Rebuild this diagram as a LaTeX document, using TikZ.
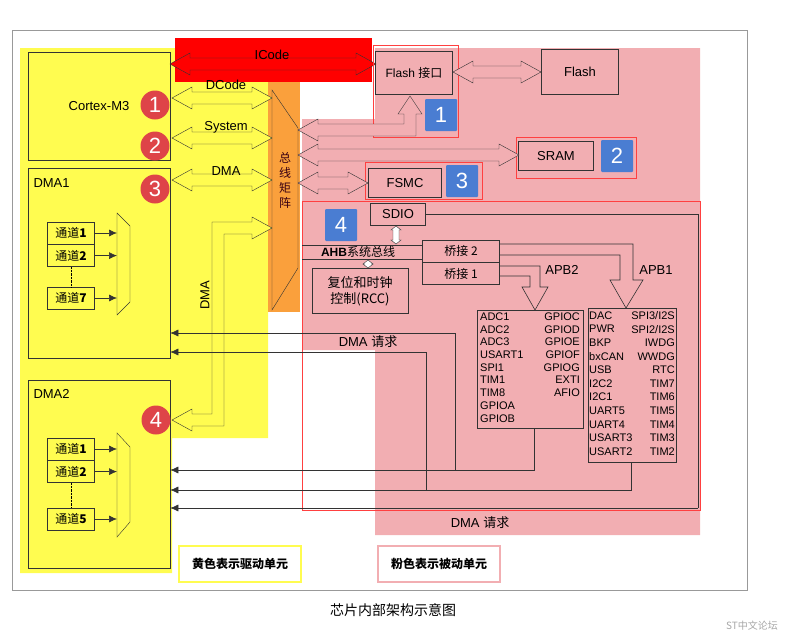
\documentclass[tikz,border=0pt]{standalone}
\usepackage{fontspec}
\setmainfont{Liberation Sans}
\newfontfamily\cjk{Noto Sans CJK SC}
\usetikzlibrary{arrows.meta, positioning}
\definecolor{drvyellow}{RGB}{255, 252, 80}
\definecolor{pasvpink}{RGB}{242, 174, 178}
\definecolor{busorange}{RGB}{250, 160, 60}
\definecolor{numred}{RGB}{222, 68, 72}
\definecolor{tagblue}{RGB}{74, 125, 210}
\tikzset{
  box/.style={draw=black!80, semithick, inner sep=1pt, font=\fontsize{13}{14}\selectfont},
  redbox/.style={draw=red!75, thick},
  num/.style={circle, fill=numred, text=white, minimum size=29pt, inner sep=0pt, font=\fontsize{22}{22}\selectfont},
  tag/.style={fill=tagblue, text=white, minimum size=32pt, inner sep=0pt, rounded corners=1pt, font=\fontsize{22}{22}\selectfont},
  chan/.style={box, minimum width=47pt, minimum height=22pt, font=\cjk\fontsize{12}{12}\selectfont},
  req/.style={draw=black!80, semithick, -{Latex[length=8pt,width=7pt]}},
  lst/.style={inner sep=0pt, font=\fontsize{11}{12}\selectfont},
  lbl/.style={font=\fontsize{13}{14}\selectfont}
}
% hollow double arrow: x1, x2, y, fill
\newcommand{\hdarrow}[4]{\filldraw[fill=#4, draw=black!80] (#1,#3) -- ++(20,-11) -- ++(0,5) -- (#2-20,#3-6) -- ++(0,-5) -- (#2,#3) -- ++(-20,11) -- ++(0,-5) -- (#1+20,#3+6) -- ++(0,5) -- cycle;}
% small vertical hollow double arrow: x, y1, y2
\newcommand{\vdarrow}[3]{\filldraw[fill=white, draw=black!80] (#1,#2) -- ++(5,4) -- ++(-2,0) -- (#1+3,#3-4) -- ++(2,0) -- (#1,#3) -- ++(-5,-4) -- ++(2,0) -- (#1-3,#2+4) -- ++(-2,0) -- cycle;}
\begin{document}
\begin{tikzpicture}[x=1pt, y=-1pt]
\useasboundingbox (0,0) rectangle (789,640);

% background areas
\draw[black!40, thick] (12,30) rectangle (747,590);
\fill[drvyellow] (20,48) -- (268,48) -- (268,438) -- (172,438) -- (172,573) -- (20,573) -- cycle;
\fill[pasvpink] (375,48) -- (700,48) -- (700,535) -- (375,535) -- (375,350) -- (302,350) -- (302,119) -- (375,119) -- cycle;
\fill[red] (175,38) rectangle (372,82);
\fill[busorange] (268,82) rectangle (300,312);
\draw[black!80] (272,90) -- (298,128) -- (298,268) -- (272,310) -- cycle;
\node[font=\cjk\fontsize{12}{15}\selectfont, text=black!70!purple, align=center] at (285,180) {总\\线\\矩\\阵};

% drivers
\node[box, minimum width=142pt, minimum height=108pt] (cortex) at (99,106) {Cortex-M3};
\node[box, minimum width=142pt, minimum height=190pt] (dma1) at (99,263) {};
\node[box, minimum width=142pt, minimum height=188pt] (dma2) at (99,474) {};
\node[anchor=west, lbl] at (30,183) {DMA1};
\node[anchor=west, lbl] at (30,394) {DMA2};

% DMA1 channels
\node[chan] (c11) at (71,233) {通道\textbf{1}};
\node[chan, below=0pt of c11] (c12) {通道\textbf{2}};
\node[chan] (c17) at (71,298) {通道\textbf{7}};
\draw[densely dotted] (c12.south) -- (c17.north);
\draw[black!80] (117,213) -- (130,226) -- (130,302) -- (117,315) -- cycle;
\foreach \c in {c11, c12, c17}
  \draw[req] (\c.east) -- (117,0 |- \c.east);

% DMA2 channels
\node[chan] (c21) at (71,449) {通道\textbf{1}};
\node[chan, below=0pt of c21] (c22) {通道\textbf{2}};
\node[chan] (c25) at (71,519) {通道\textbf{5}};
\draw[densely dotted] (c22.south) -- (c25.north);
\draw[black!80] (117,433) -- (130,447) -- (130,522) -- (117,537) -- cycle;
\foreach \c in {c21, c22, c25}
  \draw[req] (\c.east) -- (117,0 |- \c.east);

% bus arrows
\hdarrow{170}{376}{64}{red}
\hdarrow{172}{272}{98}{drvyellow}
\hdarrow{172}{272}{138}{drvyellow}
\hdarrow{172}{272}{180}{drvyellow}
\node[lbl] at (272,55) {ICode};
\node[lbl] at (226,85) {DCode};
\node[lbl] at (226,127) {System};
\node[lbl] at (226,171) {DMA};
\filldraw[fill=drvyellow, draw=black!80] (272,228) -- (252,217) -- (252,222) -- (212,222) -- (212,414) -- (192,414) -- (192,409) -- (172,420) -- (192,431) -- (192,426) -- (224,426) -- (224,234) -- (252,234) -- (252,239) -- cycle;
\node[rotate=90, lbl] at (205,295) {DMA};
\node[num] at (155,105) {1};
\node[num] at (155,146) {2};
\node[num] at (155,189) {3};
\node[num] at (156,420) {4};

% passive units
\draw[redbox] (373,45) rectangle (458,137);
\node[box, minimum width=77pt, minimum height=43pt, font=\fontsize{12}{13}\selectfont] (flashif) at (414,73) {Flash {\cjk 接口}};
\node[box, minimum width=77pt, minimum height=45pt] (flash) at (580,72) {Flash};
\node[tag] at (441,115) {1};
\draw[redbox] (516,137) rectangle (636,178);
\node[box, minimum width=75pt, minimum height=29pt] (sram) at (556,156) {SRAM};
\node[tag] at (617,156) {2};
\draw[redbox] (365,162) rectangle (482,199);
\node[box, minimum width=73pt, minimum height=29pt] (fsmc) at (405,183) {FSMC};
\node[tag] at (462,181) {3};
\hdarrow{453}{541}{72}{pasvpink}
\hdarrow{298}{519}{155}{pasvpink}
\hdarrow{298}{368}{183}{pasvpink}
\filldraw[fill=pasvpink, draw=black!80] (298,130) -- (318,119) -- (318,124) -- (404,124) -- (404,114) -- (398,114) -- (410,96) -- (422,114) -- (416,114) -- (416,136) -- (318,136) -- (318,141) -- cycle;

% AHB area
\draw[redbox] (302,201) rectangle (700,510);
\node[tag] at (341,225) {4};
\node[box, minimum width=55pt, minimum height=22pt] (sdio) at (398,214) {SDIO};
\draw[black!80, semithick] (302,245) -- (423,245) (302,259) -- (423,259);
\node[font=\fontsize{12}{13}\selectfont] at (358,252) {\textbf{AHB}{\cjk 系统总线}};
\node[box, minimum width=77pt, minimum height=22pt, font=\cjk\fontsize{12}{13}\selectfont] (br2) at (461,251) {桥接 2};
\node[box, minimum width=77pt, minimum height=22pt, font=\cjk\fontsize{12}{13}\selectfont, below=0pt of br2] (br1) {桥接 1};
\node[box, minimum width=96pt, minimum height=45pt, thick, align=center, font=\cjk\fontsize{13}{16}\selectfont] (rcc) at (360,291) {复位和时钟\\控制(RCC)};
\vdarrow{396}{226}{244}
\vdarrow{368}{260}{268}
\draw[black!80, semithick] (sdio.east) -- (698,214) -- (698,508);

% APB buses
\draw[black!80, semithick] (br1.east |- 0,266) -- (540,266) -- (540,287) -- (548,287) -- (535,310) -- (522,287) -- (530,287) -- (530,276) -- (br1.east |- 0,276);
\draw[black!80, semithick] (br2.east |- 0,244) -- (633,244) -- (633,280) -- (643,280) -- (626,308) -- (610,280) -- (620,280) -- (620,255) -- (br2.east |- 0,255);
\node[lbl] at (562,270) {APB2};
\node[lbl] at (656,270) {APB1};
\node[box, minimum width=106pt, minimum height=118pt] (apb2) at (530,369) {};
\node[box, minimum width=88pt, minimum height=154pt] (apb1) at (632,385) {};
\foreach \t [count=\i] in {ADC1, ADC2, ADC3, USART1, SPI1, TIM1, TIM8, GPIOA, GPIOB}
  \node[lst, anchor=west] at (480,304+12.7*\i) {\t};
\foreach \t [count=\i] in {GPIOC, GPIOD, GPIOE, GPIOF, GPIOG, EXTI, AFIO}
  \node[lst, anchor=east] at (580,304+12.7*\i) {\t};
\foreach \t [count=\i] in {DAC, PWR, BKP, bxCAN, USB, I2C2, I2C1, UART5, UART4, USART3, USART2}
  \node[lst, anchor=west] at (589,302+13.6*\i) {\t};
\foreach \t [count=\i] in {SPI3/I2S, SPI2/I2S, IWDG, WWDG, RTC, TIM7, TIM6, TIM5, TIM4, TIM3, TIM2}
  \node[lst, anchor=east] at (675,302+13.6*\i) {\t};

% DMA requests
\coordinate (r1) at (455,470);
\coordinate (r2) at (426,490);
\draw[req] (apb2.south -| 534,0) -- (534,470) -- (dma2.east |- 0,470);
\draw[req] (apb1.south -| 631,0) -- (631,490) -- (dma2.east |- 0,490);
\draw[req] (698,508) -- (dma2.east |- 0,508);
\draw[req] (r1) -- (455,333) -- (dma1.east |- 0,333);
\draw[req] (r2) -- (426,352) -- (dma1.east |- 0,352);
\node[lbl] at (368,342) {DMA {\cjk 请求}};
\node[lbl] at (480,523) {DMA {\cjk 请求}};

% legend
\node[draw=drvyellow, line width=2pt, fill=white, minimum width=122pt, minimum height=36pt, font=\cjk\bfseries\fontsize{12}{13}\selectfont] (lgy) at (240,564) {黄色表示驱动单元};
\node[draw=pasvpink, line width=2pt, fill=white, minimum width=122pt, minimum height=36pt, font=\cjk\bfseries\fontsize{12}{13}\selectfont] (lgp) at (439,564) {粉色表示被动单元};
\node[font=\cjk\fontsize{14}{15}\selectfont] (cap) at (393,610) {芯片内部架构示意图};
\node[text=black!35, font=\cjk\fontsize{10}{11}\selectfont] at (752,626) {ST中文论坛};
\end{tikzpicture}
\end{document}
